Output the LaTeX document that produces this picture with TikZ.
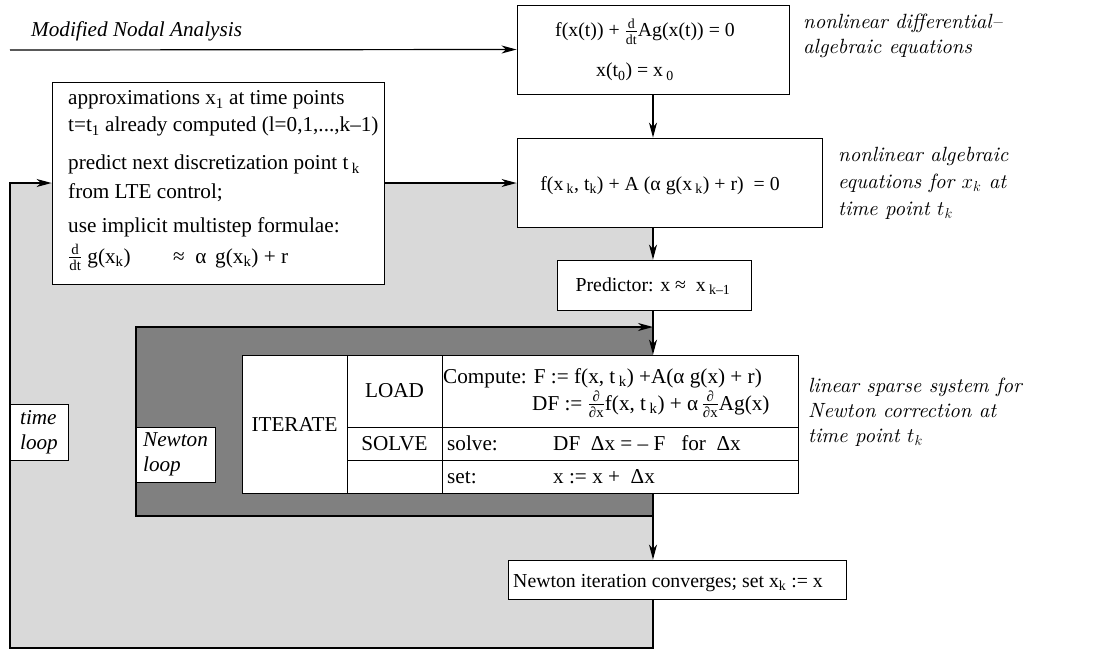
\documentclass[tikz,border=0pt]{standalone}
\usepackage{amsmath}
\usepackage{fontspec}
\newfontfamily\tms{Liberation Serif}
\newfontfamily\lmi{lmroman10-italic.otf}
\usetikzlibrary{arrows.meta}
\definecolor{lightgr}{HTML}{D9D9D9}
\definecolor{darkgr}{HTML}{808080}
\tikzset{
  every node/.style={inner sep=0pt},
  box/.style={draw, fill=white, line width=0.9pt},
  txt/.style={font=\tms\fontsize{21.2}{26}\selectfont},
  stxt/.style={font=\tms\fontsize{19.8}{24}\selectfont},
  itxt/.style={font=\tms\itshape\fontsize{21.2}{25}\selectfont},
  lbl/.style={font=\lmi\fontsize{20.6}{25}\selectfont, align=left, anchor=north west},
  flow/.style={line width=1.2pt},
  arr/.style={flow, -{Stealth[length=15pt,width=8pt,inset=4.5pt]}},
}
\begin{document}
\begin{tikzpicture}[x=1pt,y=-1pt]
\useasboundingbox (0,0) rectangle (1098,650);
% background fills
\fill[lightgr] (10,183) -- (517,183) -- (517,227) -- (653,227) -- (653,648) -- (10,648) -- cycle;
\fill[darkgr] (136,327) rectangle (653,516);

% main boxes
\node[box, minimum width=272pt, minimum height=89pt] (dae) at (653,49.5) {};
\node[stxt, anchor=base] (daeA) at (645,37) {f(x(t)) + $\frac{\text{d}}{\text{dt}}$Ag(x(t)) = 0};
\node[stxt, anchor=base] (daeB) at (635,77) {x(t\textsubscript{0}) = x\,\textsubscript{0}};

\node[box, minimum width=305pt, minimum height=89pt] (eq2) at (669.5,182.5) {};
\node[stxt, anchor=base] (eq2A) at (660,190) {f(x\,\textsubscript{k}, t\textsubscript{k}) + A (α g(x\,\textsubscript{k}) + r) \ = 0};

\node[box, minimum width=332pt, minimum height=202pt] (approx) at (218,183) {};
\node[txt, anchor=base west] (ap1) at (68,105) {approximations x\textsubscript{1}\ at time points};
\node[txt, anchor=base west] (ap2) at (68,132) {t=t\textsubscript{1} already computed (l=0,1,...,k–1)};
\node[txt, anchor=base west] (ap3) at (68,170) {predict next discretization point t\,\textsubscript{k}};
\node[txt, anchor=base west] (ap4) at (68,198) {from LTE control;};
\node[txt, anchor=base west] (ap5) at (68,232) {use implicit multistep formulae:};
\node[txt, anchor=base west] (ap6) at (68,263) {$\frac{\text{d}}{\text{dt}}$\ g(x\textsubscript{k})\qquad≈\ \ α\ \,g(x\textsubscript{k}) + r};

\node[box, minimum width=194pt, minimum height=50pt] (pred) at (654,285) {};
\node[stxt, anchor=base] (predA) at (653,291) {Predictor: x ≈\ \ x\,\textsubscript{k–1}};

% table
\node[box, minimum width=105pt, minimum height=138pt, txt] (iter) at (294.5,424) {ITERATE};
\node[box, minimum width=95pt, minimum height=72pt, txt] (load) at (394.5,391) {LOAD};
\node[box, minimum width=95pt, minimum height=33pt, txt] (solve) at (394.5,443.5) {SOLVE};
\node[box, minimum width=95pt, minimum height=33pt] (empty) at (394.5,476.5) {};
\node[box, minimum width=356pt, minimum height=72pt] (comp) at (620,391) {};
\node[box, minimum width=356pt, minimum height=33pt] (solvec) at (620,443.5) {};
\node[box, minimum width=356pt, minimum height=33pt] (setc) at (620,476.5) {};
\node[txt, anchor=base west] (compA) at (443,383) {Compute: F := f(x, t\,\textsubscript{k}) +A(α g(x) + r)};
\node[txt, anchor=base west] (compB) at (532,410) {DF := $\frac{\text{∂}}{\text{∂x}}$f(x, t\,\textsubscript{k}) + α$\,\frac{\text{∂}}{\text{∂x}}$Ag(x)};
\node[txt, anchor=base west] (solA) at (447,450) {solve:};
\node[txt, anchor=base west] (solB) at (553,450) {DF\ \ Δx = – F\ \ \ for\ \ Δx};
\node[txt, anchor=base west] (setA) at (447,483) {set:};
\node[txt, anchor=base west] (setB) at (553,483) {x := x +\ \ Δx};

\node[box, minimum width=338pt, minimum height=39pt] (conv) at (677,579.5) {};
\node[stxt, anchor=base west] (convA) at (513,587) {Newton iteration converges; set x\textsubscript{k} := x};

% labels
\node[itxt, anchor=base west] (mna) at (31,37) {Modified Nodal Analysis};
\node[lbl] (l1) at (803,14) {nonlinear differential–\\algebraic equations};
\node[lbl] (l2) at (838,147) {nonlinear algebraic\\[2pt]equations for $x_k$ at\\[2pt]time point $t_k$};
\node[lbl] (l3) at (808,378) {linear sparse system for\\Newton correction at\\time point $t_k$};

% connectors
\coordinate (mnaStart) at (10,50);
\draw[arr] (mnaStart) -- (dae.west);
\draw[arr] (dae.south) -- (dae.south |- eq2.north);
\draw[arr] (dae.south |- eq2.south) -- (dae.south |- pred.north);
\draw[arr] (dae.south |- pred.south) -- (dae.south |- comp.north);
\draw[arr] (dae.south |- setc.south) -- (dae.south |- conv.north);
\coordinate (nl1) at (653,516);
\coordinate (nl2) at (136,516);
\coordinate (nl3) at (136,327);
\coordinate (nl4) at (653,327);
\draw[arr] (nl1) -- (nl2) -- (nl3) -- (nl4);
\coordinate (tl1) at (653,648);
\coordinate (tl2) at (10,648);
\coordinate (tl3) at (10,183);
\draw[arr] (dae.south |- conv.south) -- (tl1) -- (tl2) -- (tl3) -- (approx.west |- tl3);
\draw[arr] (approx.east |- tl3) -- (eq2.west |- tl3);

% loop labels
\node[box, itxt, minimum width=58pt, minimum height=56pt, align=left] (tloop) at (39,432) {time\\loop};
\node[box, itxt, minimum width=79pt, minimum height=55pt, align=left] (nloop) at (175.5,454.5) {Newton\\loop};
\end{tikzpicture}
\end{document}
